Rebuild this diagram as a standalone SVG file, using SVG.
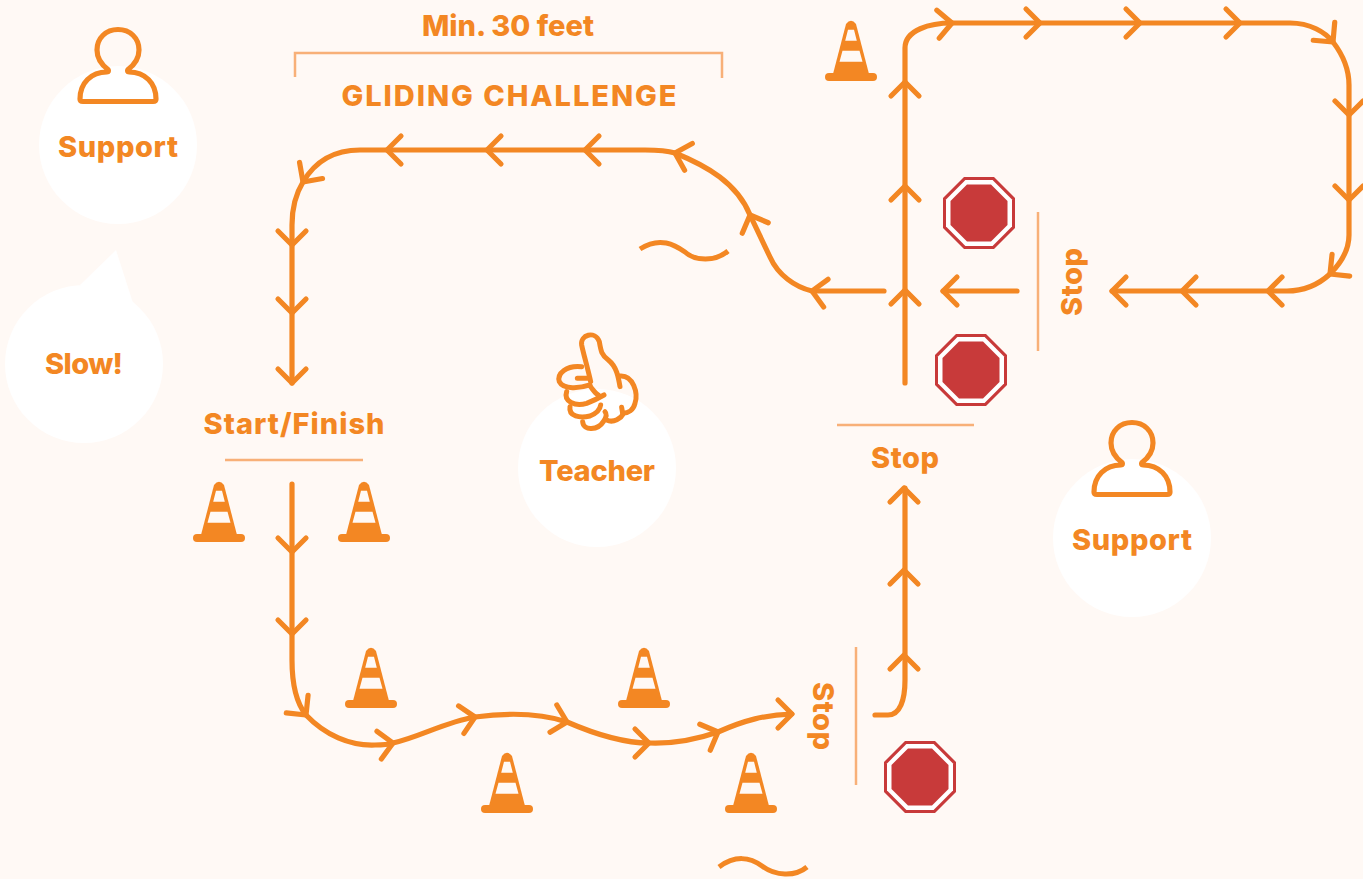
<svg xmlns="http://www.w3.org/2000/svg" width="1363" height="879" viewBox="0 0 1363 879">
<style>
.t{font-family:Inter,"Liberation Sans",sans-serif;font-weight:800;font-size:29px;fill:#f38723;text-anchor:middle}
.rt{fill:none;stroke:#f38723;stroke-width:5.200;stroke-linecap:round;stroke-linejoin:round}
.ic{fill:none;stroke:#f38723;stroke-width:5.200;stroke-linecap:round;stroke-linejoin:round}
.lt{fill:none;stroke:#f8b078;stroke-width:2.500}
.wv{fill:none;stroke:#f38723;stroke-width:5}
.bub{fill:#fff}
</style>
<defs>
<path id="ch" class="rt" d="M-14 -14L0 0L-14 14"/>
<g id="cone">
<path fill="#f38723" d="M-5 3Q0 -3.500 5 3L18 53H-18Z"/>
<rect x="-26" y="52" width="52" height="8" rx="4" fill="#f38723"/>
<path fill="#fff9f5" d="M-3 8.700H3L5.800 19.700H-5.800ZM-8.500 29.700H8.500L11.500 40.700H-11.500Z"/>
</g>
<g id="stop">
<path fill="#c83a3a" d="M-15 -36H15L36 -15V15L15 36H-15L-36 15V-15Z"/>
<path fill="#fff" d="M-13.600 -33H13.600L33 -13.600V13.600L13.600 33H-13.600L-33 13.600V-13.600Z"/>
<path fill="#c83a3a" d="M-12 -28.500H12L28.500 -12V12L12 28.500H-12L-28.500 12V-12Z"/>
</g>
<path id="person" class="ic" d="M-10 42.500C-16 38 -21 31 -21 23C-21 11 -12 2.500 0 2.500C12 2.500 21 11 21 23C21 31 16 38 10 42.500C9 44 9.500 45 11 45C27 45 38 56 38 72C38 73.500 37 74.500 35 74.500H-35C-37 74.500 -38 73.500 -38 72C-38 56 -27 45 -11 45C-9.500 45 -9 44 -10 42.500Z"/>
</defs>
<rect width="1363" height="879" fill="#fff9f5"/>

<g id="connectors">
<path class="rt" d="M905 383V48C905 30 930 23 952 23H1290C1310 23 1325 32 1333 42C1343 55 1349 70 1349 85V235C1349 250 1342 262 1330 274C1318 285 1303 291 1287 291H1112"/>
<path class="rt" d="M1017 291H943"/>
<path class="rt" d="M884 291H812C795 287 778 275 770 257L750 215C737 183 707 166 675 153C665 150 655 150 645 150H360C330 150 313 165 303 182C295 195 292 210 292 225V383"/>
<path class="rt" d="M292 484V660C292 690 298 705 306 715C325 735 350 746 375 745C385 745 390 744 393 743C420 737 445 722 475 717C505 713 540 713 567 722C590 732 620 743 649 743C675 744 695 740 718 732C745 720 765 715 792 714"/>
<path class="rt" d="M875 715H888C900 715 905 700 905 680V488"/>
<g id="arrowheads">
<use href="#ch" transform="translate(905 290) rotate(-90)"/>
<use href="#ch" transform="translate(905 186) rotate(-90)"/>
<use href="#ch" transform="translate(905 82) rotate(-90)"/>
<use href="#ch" transform="translate(952 23) rotate(-5)"/>
<use href="#ch" transform="translate(1040 23)"/>
<use href="#ch" transform="translate(1140 23)"/>
<use href="#ch" transform="translate(1240 23)"/>
<use href="#ch" transform="translate(1333 42) rotate(50)"/>
<use href="#ch" transform="translate(1349 115) rotate(90)"/>
<use href="#ch" transform="translate(1349 200) rotate(90)"/>
<use href="#ch" transform="translate(1330 274) rotate(141)"/>
<use href="#ch" transform="translate(1268 291) rotate(180)"/>
<use href="#ch" transform="translate(1182 291) rotate(180)"/>
<use href="#ch" transform="translate(1112 291) rotate(180)"/>
<use href="#ch" transform="translate(943 291) rotate(180)"/>
<use href="#ch" transform="translate(812 291) rotate(189)"/>
<use href="#ch" transform="translate(750 215) rotate(-112)"/>
<use href="#ch" transform="translate(675 153) rotate(196)"/>
<use href="#ch" transform="translate(585 150) rotate(180)"/>
<use href="#ch" transform="translate(487 150) rotate(180)"/>
<use href="#ch" transform="translate(387 150) rotate(180)"/>
<use href="#ch" transform="translate(303 182) rotate(125)"/>
<use href="#ch" transform="translate(292 245) rotate(90)"/>
<use href="#ch" transform="translate(292 313) rotate(90)"/>
<use href="#ch" transform="translate(292 383) rotate(90)"/>
<use href="#ch" transform="translate(292 552) rotate(90)"/>
<use href="#ch" transform="translate(292 634) rotate(90)"/>
<use href="#ch" transform="translate(306 715) rotate(51)"/>
<use href="#ch" transform="translate(393 743) rotate(-9)"/>
<use href="#ch" transform="translate(475 717) rotate(-11)"/>
<use href="#ch" transform="translate(567 722) rotate(14)"/>
<use href="#ch" transform="translate(649 743)"/>
<use href="#ch" transform="translate(718 732) rotate(-22)"/>
<use href="#ch" transform="translate(792 714)"/>
<use href="#ch" transform="translate(904 655) rotate(-90)"/>
<use href="#ch" transform="translate(904 570) rotate(-90)"/>
<use href="#ch" transform="translate(904 488) rotate(-90)"/>
</g>
</g>

<g id="guides">
<path class="lt" d="M295 77V53H722V78"/>
<path class="lt" d="M225 460H363"/>
<path class="lt" d="M837 425H974"/>
<path class="lt" d="M1038 212V351"/>
<path class="lt" d="M856 647V785"/>
</g>

<g id="waves">
<path class="wv" d="M640 249C660 236 675 245 685 252C695 261 715 262 728 251"/>
<path class="wv" d="M719 867C735 855 750 857 762 866C775 876 795 877 807 867"/>
</g>

<g id="cones">
<use href="#cone" x="851" y="21"/>
<use href="#cone" x="219" y="482"/>
<use href="#cone" x="364" y="482"/>
<use href="#cone" x="371" y="648"/>
<use href="#cone" x="644" y="648"/>
<use href="#cone" x="507" y="753"/>
<use href="#cone" x="751" y="753"/>
</g>

<g id="stops">
<use href="#stop" x="979" y="213"/>
<use href="#stop" x="971" y="370"/>
<use href="#stop" x="920" y="777"/>
</g>

<g id="support-1">
<circle class="bub" cx="118" cy="145" r="79"/>
<use href="#person" x="118" y="27"/>
<text class="t" x="118" y="157" textLength="120">Support</text>
</g>
<g id="slow">
<circle class="bub" cx="84" cy="364" r="79"/>
<path class="bub" d="M80 285L116 250L133 303Z"/>
<text class="t" x="84" y="374" textLength="78">Slow!</text>
</g>
<g id="teacher">
<circle class="bub" cx="597" cy="468" r="79"/>
<g class="ic" transform="translate(500 310) scale(.3333)" style="stroke-width:15px">
<path d="M272 215C262 170 250 130 245 105C240 75 285 60 298 95C303 125 305 135 325 150C350 170 355 200 360 230"/>
<path d="M360 198C400 195 415 250 405 280C400 300 385 310 368 310L365 292"/>
<path d="M245 170C200 165 170 190 178 215C190 240 240 235 270 225M232 205H268"/>
<path d="M200 245C190 275 225 290 260 280C285 270 300 262 312 255M270 228C280 240 285 250 295 255"/>
<path d="M210 290C205 320 240 325 270 318C290 310 300 300 302 285"/>
<path d="M248 335C250 365 295 360 310 335C320 320 320 310 315 305M320 330C340 340 365 325 370 310"/>
</g>
<text class="t" x="597" y="481" textLength="116">Teacher</text>
</g>
<g id="support-2">
<circle class="bub" cx="1132" cy="538" r="79"/>
<use href="#person" x="1132" y="420"/>
<text class="t" x="1132" y="550" textLength="120">Support</text>
</g>

<g id="labels">
<text class="t" x="508" y="36" textLength="172">Min. 30 feet</text>
<text class="t" x="509" y="106" textLength="335">GLIDING CHALLENGE</text>
<text class="t" x="294" y="434" textLength="181">Start/Finish</text>
<text class="t" x="905" y="468" textLength="68">Stop</text>
<text class="t" transform="translate(1082 282) rotate(-90)" textLength="68">Stop</text>
<text class="t" transform="translate(813 716) rotate(90)" textLength="68">Stop</text>
</g>
</svg>
